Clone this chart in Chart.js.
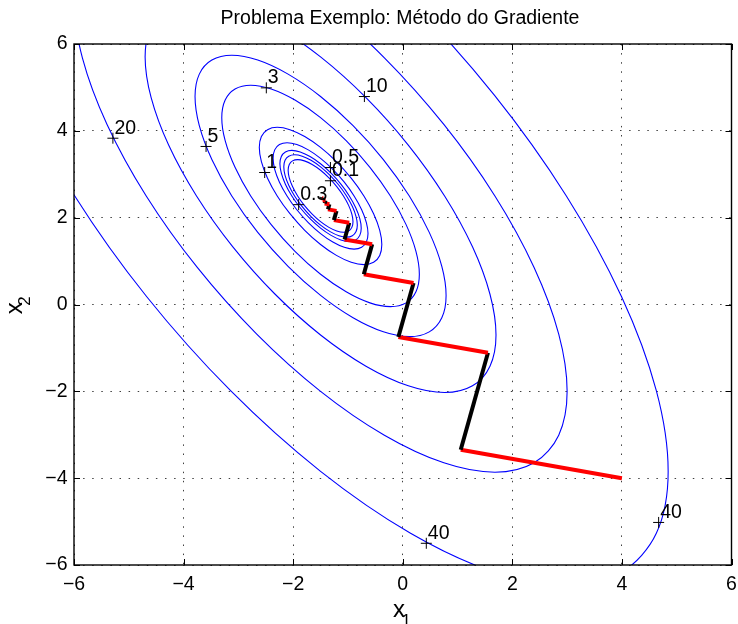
<!DOCTYPE html>
<html>
<head>
<meta charset="utf-8">
<script src="https://cdn.jsdelivr.net/npm/chart.js@4.4.1/dist/chart.umd.min.js"></script>
<style>
html,body{margin:0;padding:0;background:#ffffff;}
#wrap{width:738px;height:624px;position:relative;}
</style>
</head>
<body>
<div id="wrap"><canvas id="c" width="738" height="624"></canvas></div>
<script>
// ---------------- data ----------------
const chartTitle = 'Problema Exemplo: Método do Gradiente';

const xTickValues = [-6, -4, -2, 0, 2, 4, 6];
const yTickValues = [-6, -4, -2, 0, 2, 4, 6];
const xTickLabels = ['\u22126', '\u22124', '\u22122', '0', '2', '4', '6'];
const yTickLabels = ['\u22126', '\u22124', '\u22122', '0', '2', '4', '6'];

const contourLevels = [0.1, 0.2, 0.3, 0.5, 1, 3, 5, 10, 20, 40];

const c0_1x = [-0.908,-0.929,-0.988,-1.082,-1.204,-1.347,-1.5,-1.653,-1.796,-1.918,-2.012,-2.071,-2.092,-2.071,-2.012,-1.918,-1.796,-1.653,-1.5,-1.347,-1.204,-1.082,-0.988,-0.929];
const c0_1y = [1.908,2.082,2.283,2.5,2.717,2.918,3.092,3.225,3.308,3.337,3.308,3.225,3.092,2.918,2.717,2.5,2.283,2.082,1.908,1.776,1.692,1.663,1.692,1.776];

const c0_2x = [-0.829,-0.852,-0.919,-1.026,-1.165,-1.326,-1.5,-1.674,-1.835,-1.974,-2.081,-2.148,-2.171,-2.148,-2.081,-1.974,-1.835,-1.674,-1.5,-1.326,-1.165,-1.026,-0.919,-0.852];
const c0_2y = [1.829,2.026,2.255,2.5,2.746,2.974,3.171,3.322,3.416,3.449,3.416,3.322,3.171,2.974,2.746,2.5,2.255,2.026,1.829,1.679,1.584,1.551,1.584,1.679];

const c0_3x = [-0.758,-0.784,-0.858,-0.976,-1.129,-1.308,-1.5,-1.692,-1.871,-2.024,-2.142,-2.216,-2.242,-2.216,-2.142,-2.024,-1.871,-1.692,-1.5,-1.308,-1.129,-0.976,-0.858,-0.784];
const c0_3y = [1.758,1.976,2.229,2.5,2.771,3.024,3.242,3.408,3.513,3.549,3.513,3.408,3.242,3.024,2.771,2.5,2.229,1.976,1.758,1.592,1.487,1.451,1.487,1.592];

const c0_5x = [-0.634,-0.664,-0.75,-0.888,-1.067,-1.276,-1.5,-1.724,-1.933,-2.112,-2.25,-2.337,-2.366,-2.337,-2.25,-2.112,-1.933,-1.724,-1.5,-1.276,-1.067,-0.888,-0.75,-0.664];
const c0_5y = [1.634,1.888,2.183,2.5,2.817,3.112,3.366,3.561,3.683,3.725,3.683,3.561,3.366,3.112,2.817,2.5,2.183,1.888,1.634,1.439,1.317,1.275,1.317,1.439];

const c1x = [-0.382,-0.420,-0.532,-0.709,-0.941,-1.211,-1.5,-1.789,-2.059,-2.291,-2.468,-2.580,-2.618,-2.580,-2.468,-2.291,-2.059,-1.789,-1.5,-1.211,-0.941,-0.709,-0.532,-0.420];
const c1y = [1.382,1.709,2.091,2.5,2.909,3.291,3.618,3.869,4.027,4.081,4.027,3.869,3.618,3.291,2.909,2.5,2.091,1.709,1.382,1.131,0.973,0.919,0.973,1.131];

const c3x = [0.303,0.241,0.061,-0.225,-0.599,-1.033,-1.5,-1.967,-2.401,-2.775,-3.061,-3.241,-3.303,-3.241,-3.061,-2.775,-2.401,-1.967,-1.5,-1.033,-0.599,-0.225,0.061,0.241];
const c3y = [0.697,1.225,1.840,2.5,3.160,3.775,4.303,4.708,4.963,5.050,4.963,4.708,4.303,3.775,3.160,2.5,1.840,1.225,0.697,0.292,0.037,-0.050,0.037,0.292];

const c5x = [0.791,0.713,0.484,0.120,-0.354,-0.907,-1.5,-2.093,-2.646,-3.120,-3.484,-3.713,-3.791,-3.713,-3.484,-3.120,-2.646,-2.093,-1.5,-0.907,-0.354,0.120,0.484,0.713];
const c5y = [0.209,0.880,1.661,2.5,3.339,4.120,4.791,5.306,5.630,5.740,5.630,5.306,4.791,4.120,3.339,2.5,1.661,0.880,0.209,-0.306,-0.630,-0.740,-0.630,-0.306];

const c10x = [1.702,1.592,1.273,0.764,0.101,-0.671,-1.5,-2.329,-3.101,-3.764,-4.273,-4.592,-4.702,-4.592,-4.273,-3.764,-3.101,-2.329,-1.5,-0.671,0.101,0.764,1.273,1.592];
const c10y = [-0.702,0.236,1.328,2.5,3.672,4.764,5.702,6.421,6.873,7.028,6.873,6.421,5.702,4.764,3.672,2.5,1.328,0.236,-0.702,-1.421,-1.873,-2.028,-1.873,-1.421];

const c20x = [3.0,2.847,2.397,1.682,0.75,-0.335,-1.5,-2.665,-3.75,-4.682,-5.397,-5.847,-6.0,-5.847,-5.397,-4.682,-3.75,-2.665,-1.5,-0.335,0.75,1.682,2.397,2.847];
const c20y = [-2.0,-0.682,0.853,2.5,4.147,5.682,7.0,8.011,8.647,8.864,8.647,8.011,7.0,5.682,4.147,2.5,0.853,-0.682,-2.0,-3.011,-3.647,-3.864,-3.647,-3.011];

const c40x = [4.844,4.628,3.994,2.986,1.672,0.142,-1.5,-3.142,-4.672,-5.986,-6.994,-7.628,-7.844,-7.628,-6.994,-5.986,-4.672,-3.142,-1.5,0.142,1.672,2.986,3.994,4.628];
const c40y = [-3.844,-1.986,0.178,2.5,4.822,6.986,8.844,10.270,11.166,11.472,11.166,10.270,8.844,6.986,4.822,2.5,0.178,-1.986,-3.844,-5.270,-6.166,-6.472,-6.166,-5.270];

// gradient-method iterates (alternating red / black steps)
const pathX = [4, 1.058, 1.555, -0.080, 0.197, -0.711, -0.558, -1.062, -0.977, -1.257, -1.209, -1.365, -1.339, -1.425, -1.410, -1.458, -1.450, -1.477, -1.472];
const pathY = [-4, -3.346, -1.110, -0.747, 0.495, 0.697, 1.386, 1.498, 1.882, 1.944, 2.157, 2.191, 2.309, 2.328, 2.394, 2.405, 2.441, 2.447, 2.467];

// contour labels ('+' marker position and text)
const labelText = ['20', '5', '3', '1', '10', '0.5', '0.1', '0.3', '40', '40'];
const labelX = [-5.29, -3.59, -2.49, -2.52, -0.70, -1.32, -1.32, -1.90, 0.43, 4.67];
const labelY = [3.83, 3.64, 4.99, 3.04, 4.79, 3.155, 2.85, 2.30, -5.50, -5.02];

// ---------------- chart ----------------
const FONT = "'Liberation Sans', Arial, Helvetica, sans-serif";
const contourXs = [c0_1x, c0_2x, c0_3x, c0_5x, c1x, c3x, c5x, c10x, c20x, c40x];
const contourYs = [c0_1y, c0_2y, c0_3y, c0_5y, c1y, c3y, c5y, c10y, c20y, c40y];

function closedLoop(xs, ys) {
  const n = xs.length;
  const pts = [{x: xs[n - 1], y: ys[n - 1]}];
  for (let i = 0; i < n; i++) pts.push({x: xs[i], y: ys[i]});
  pts.push({x: xs[0], y: ys[0]});
  pts.push({x: xs[1], y: ys[1]});
  return pts;
}

const datasets = [];
datasets.push({
  label: 'gradiente',
  data: pathX.map((v, i) => ({x: v, y: pathY[i]})),
  showLine: true,
  borderWidth: 4,
  tension: 0,
  pointRadius: 0,
  borderCapStyle: 'butt',
  borderJoinStyle: 'miter',
  borderColor: 'rgb(255,0,0)',
  segment: { borderColor: c => (c.p0DataIndex % 2 === 0 ? 'rgb(255,0,0)' : 'rgb(0,0,0)') },
  order: 0
});
datasets.push({
  label: 'rotulos',
  data: labelX.map((v, i) => ({x: v, y: labelY[i]})),
  showLine: false,
  pointStyle: 'cross',
  pointRadius: 5.5,
  pointBorderWidth: 1,
  pointBorderColor: 'rgb(0,0,0)',
  borderColor: 'rgb(0,0,0)',
  order: 1
});
contourLevels.forEach((lv, k) => {
  const pts = closedLoop(contourXs[k], contourYs[k]);
  const last = pts.length - 2;
  datasets.push({
    label: 'f = ' + lv,
    data: pts,
    showLine: true,
    borderWidth: 1.1,
    borderColor: 'rgb(0,0,255)',
    tension: 0.33,
    pointRadius: 0,
    segment: { borderColor: c => ((c.p0DataIndex === 0 || c.p0DataIndex === last) ? 'rgba(0,0,0,0)' : 'rgb(0,0,255)') },
    order: 2
  });
});

const gridColor = 'rgba(0,0,0,0.75)';

const framePlugin = {
  id: 'matlabFrame',
  afterLayout(chart) {
    const tb = chart.titleBlock;
    if (tb) {
      const half = (tb.right - tb.left) / 2;
      tb.left = 400 - half;
      tb.right = 400 + half;
    }
  },
  afterDatasetsDraw(chart) {
    const {ctx, chartArea: a, scales} = chart;
    const sx = scales.x, sy = scales.y;
    ctx.save();
    // contour labels
    ctx.font = '19.5px ' + FONT;
    ctx.fillStyle = '#000';
    ctx.textAlign = 'left';
    ctx.textBaseline = 'alphabetic';
    labelText.forEach((t, i) => {
      const px = sx.getPixelForValue(labelX[i]);
      const py = sy.getPixelForValue(labelY[i]);
      ctx.fillText(t, px + 1.5, py - 4.5);
    });
    // box
    ctx.strokeStyle = '#000';
    ctx.lineWidth = 1.4;
    ctx.strokeRect(a.left, a.top, a.right - a.left, a.bottom - a.top);
    // inner ticks
    ctx.lineWidth = 1;
    ctx.beginPath();
    xTickValues.forEach(v => {
      const px = Math.round(sx.getPixelForValue(v)) + 0.5;
      ctx.moveTo(px, a.bottom); ctx.lineTo(px, a.bottom - 6);
      ctx.moveTo(px, a.top); ctx.lineTo(px, a.top + 6);
    });
    yTickValues.forEach(v => {
      const py = Math.round(sy.getPixelForValue(v)) + 0.5;
      ctx.moveTo(a.left, py); ctx.lineTo(a.left + 6, py);
      ctx.moveTo(a.right, py); ctx.lineTo(a.right - 6, py);
    });
    ctx.stroke();
    // axis labels x1 / x2
    const cx = (a.left + a.right) / 2;
    ctx.fillStyle = '#000';
    ctx.font = '24px ' + FONT;
    ctx.fillText('x', cx - 9.7, 616.7);
    ctx.font = '17px ' + FONT;
    ctx.fillText('1', cx - 1.3, 625.5);
    const cy = (a.top + a.bottom) / 2;
    ctx.translate(21.5, cy);
    ctx.rotate(-Math.PI / 2);
    ctx.font = '24px ' + FONT;
    ctx.fillText('x', -9.7, 0);
    ctx.font = '17px ' + FONT;
    ctx.fillText('2', -1.3, 8.8);
    ctx.restore();
  }
};

new Chart(document.getElementById('c'), {
  type: 'scatter',
  data: { datasets },
  options: {
    responsive: false,
    animation: false,
    devicePixelRatio: 1,
    events: [],
    layout: { padding: { left: 0, right: 3, top: 0, bottom: 0 } },
    elements: { line: { capBezierPoints: false } },
    plugins: {
      legend: { display: false },
      tooltip: { enabled: false },
      title: {
        display: true,
        text: chartTitle,
        color: '#000',
        font: { family: FONT, size: 19.5, weight: 'normal' },
        padding: { top: 6.5, bottom: 14.1 }
      }
    },
    scales: {
      x: {
        type: 'linear',
        min: -6, max: 6,
        afterBuildTicks: s => { s.ticks = xTickValues.map(v => ({value: v})); },
        ticks: {
          autoSkip: false, maxRotation: 0, minRotation: 0,
          padding: 7.5, color: '#000',
          font: { family: FONT, size: 19.5 },
          callback: v => xTickLabels[xTickValues.indexOf(v)]
        },
        grid: { color: gridColor, lineWidth: 1, drawTicks: false },
        border: { display: false, dash: [1.5, 7.6] },
        afterFit: s => { s.height = 59; s.paddingLeft = 0; s.paddingRight = 0; }
      },
      y: {
        type: 'linear',
        min: -6, max: 6,
        afterBuildTicks: s => { s.ticks = yTickValues.map(v => ({value: v})); },
        ticks: {
          autoSkip: false,
          padding: 6.5, color: '#000',
          font: { family: FONT, size: 19.5 },
          callback: v => yTickLabels[yTickValues.indexOf(v)]
        },
        grid: { color: gridColor, lineWidth: 1, drawTicks: false },
        border: { display: false, dash: [1.5, 7.6] },
        afterFit: s => { s.width = 74; s.paddingTop = 0; s.paddingBottom = 0; }
      }
    }
  },
  plugins: [framePlugin]
});
</script>
</body>
</html>
